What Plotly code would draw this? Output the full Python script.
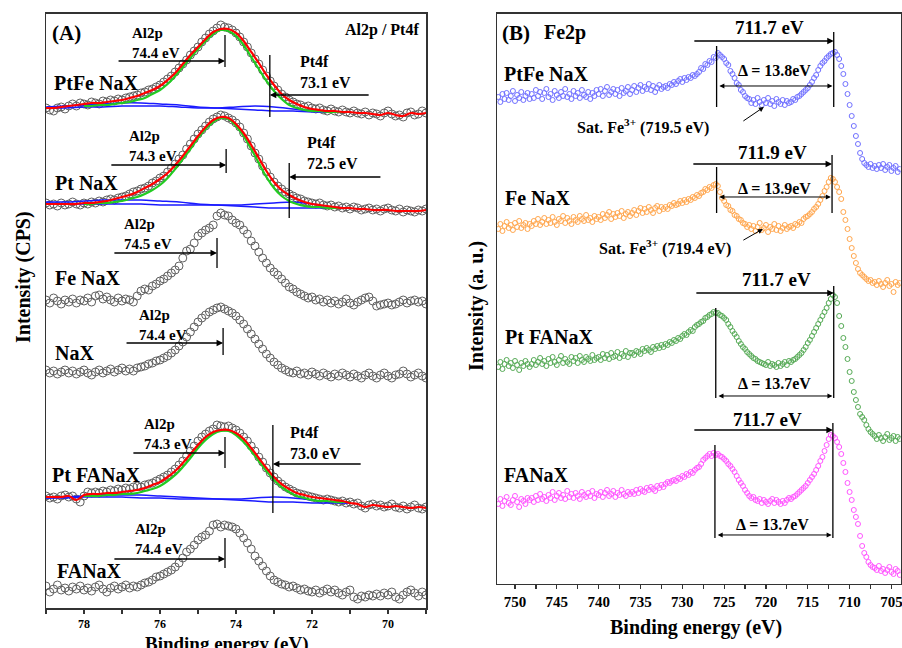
import numpy as np
import plotly.graph_objects as go

FONT = "Liberation Serif"

# ======================= Panel (A): Al2p / Pt4f ==========================
# measured intensities (a.u.), binding energy 79.0 -> 69.0 eV, 0.1 eV steps
a_names = ["PtFe NaX", "Pt NaX", "Fe NaX", "NaX", "Pt FANaX", "FANaX"]

a_ptfe_nax = [500, 498, 497, 500, 501, 499, 502, 504, 502, 505, 504,
              503, 506, 505, 504, 507, 506, 508, 507, 509, 508,
              510, 511, 512, 513, 515, 516, 518, 519, 521, 523,
              526, 529, 532, 536, 540, 544, 548, 553, 557, 561,
              566, 570, 574, 577, 580, 583, 581, 580, 578, 575,
              571, 566, 561, 555, 549, 544, 538, 532, 527, 522,
              518, 514, 511, 508, 506, 504, 503, 501, 502, 500,
              499, 500, 498, 497, 499, 497, 496, 498, 496, 495,
              497, 495, 494, 496, 493, 495, 494, 492, 495, 497,
              494, 492, 493, 491, 495, 496, 493, 494, 497, 495]
a_pt_nax = [405, 403, 404, 402, 405, 403, 404, 406, 404, 403, 405,
            404, 406, 405, 407, 406, 408, 409, 408, 410, 411,
            412, 414, 416, 417, 419, 420, 422, 425, 427, 430,
            432, 436, 440, 444, 449, 453, 459, 464, 469, 474,
            478, 482, 486, 489, 491, 493, 492, 490, 488, 485,
            481, 475, 469, 462, 455, 449, 442, 436, 431, 426,
            422, 419, 416, 414, 412, 410, 409, 407, 406, 405,
            404, 405, 403, 402, 403, 401, 402, 400, 401, 399,
            401, 400, 398, 399, 400, 398, 399, 397, 399, 400,
            398, 397, 399, 396, 398, 397, 396, 398, 397, 399]
a_fe_nax = [308, 305, 310, 307, 304, 308, 306, 309, 305, 308, 307,
            310, 306, 312, 313, 309, 311, 308, 306, 310, 307,
            309, 308, 306, 312, 317, 319, 318, 322, 324, 327,
            329, 332, 335, 338, 342, 350, 357, 359, 365, 372,
            375, 378, 380, 383, 392, 395, 393, 392, 388, 385,
            383, 378, 374, 367, 362, 356, 350, 345, 340, 336,
            333, 329, 325, 321, 319, 316, 314, 312, 310, 311,
            308, 309, 306, 308, 305, 307, 304, 306, 309, 305,
            303, 306, 308, 310, 311, 307, 302, 303, 304, 305,
            303, 304, 306, 308, 305, 307, 308, 306, 307, 304]
a_nax = [238, 235, 237, 234, 236, 238, 235, 237, 234, 236, 238,
         235, 233, 236, 238, 235, 237, 239, 236, 238, 240,
         237, 239, 237, 240, 241, 242, 244, 245, 247, 248,
         250, 252, 255, 258, 262, 266, 271, 276, 281, 286,
         290, 293, 296, 298, 300, 301, 299, 297, 295, 292,
         288, 284, 279, 274, 269, 264, 259, 254, 250, 246,
         243, 240, 238, 236, 235, 237, 234, 235, 233, 236,
         234, 232, 235, 233, 231, 234, 232, 235, 233, 231,
         234, 232, 230, 233, 235, 232, 230, 233, 235, 232,
         230, 233, 234, 237, 234, 231, 233, 235, 232, 230]
a_pt_fanax = [112, 110, 111, 109, 112, 113, 111, 112, 109, 106, 112,
              116, 115, 116, 115, 117, 116, 118, 117, 119, 118,
              120, 119, 121, 122, 121, 123, 124, 125, 127, 129,
              131, 133, 136, 139, 143, 147, 152, 157, 162, 167,
              171, 174, 177, 179, 183, 182, 181, 182, 180, 178,
              175, 171, 167, 162, 157, 151, 146, 140, 135, 131,
              127, 124, 121, 119, 117, 115, 114, 113, 112, 111,
              110, 109, 108, 109, 108, 107, 106, 107, 105, 106,
              104, 105, 102, 100, 103, 104, 102, 103, 101, 102,
              104, 101, 100, 102, 99, 101, 103, 100, 99, 101]
a_fanax = [22, 16, 19, 23, 18, 20, 17, 21, 19, 22, 18,
           20, 17, 21, 23, 19, 16, 20, 22, 19, 21,
           23, 20, 22, 21, 23, 25, 26, 28, 31, 32,
           34, 36, 38, 41, 45, 50, 56, 59, 63, 68,
           71, 73, 77, 83, 84, 81, 83, 82, 81, 79,
           75, 70, 65, 59, 52, 47, 42, 37, 32, 28,
           26, 24, 23, 21, 22, 20, 18, 19, 17, 16,
           18, 15, 17, 19, 16, 18, 15, 13, 16, 18,
           11, 9, 12, 11, 13, 12, 14, 12, 15, 13,
           16, 11, 9, 13, 16, 18, 15, 12, 16, 13]

# fitted envelopes (red), 79 -> 69 eV, 0.2 eV steps
env_ptfe = [500, 500, 501, 502, 503, 504, 505, 505, 506, 507,
            508, 510, 512, 515, 518, 522, 528, 535, 544, 553,
            561, 569, 576, 579, 579, 575, 567, 556, 545, 533,
            523, 514, 508, 504, 501, 499, 498, 497, 497, 496,
            496, 495, 495, 494, 493, 495, 493, 492, 495, 494, 495]
env_pt = [404, 404, 404, 404, 404, 405, 405, 406, 407, 409,
          411, 413, 416, 420, 424, 429, 435, 443, 452, 462,
          472, 481, 488, 491, 490, 484, 475, 463, 450, 437,
          426, 418, 413, 409, 406, 404, 403, 402, 401, 400,
          400, 399, 399, 398, 398, 398, 397, 397, 397, 397, 398]
env_ptfa = [111, 111, 111, 112, 108, 113, 114, 114, 115, 115,
            116, 117, 118, 120, 123, 126, 131, 137, 145, 154,
            163, 171, 176, 178, 178, 175, 169, 160, 150, 140,
            131, 124, 119, 115, 113, 111, 110, 109, 108, 107,
            105, 104, 101, 103, 102, 101, 102, 101, 100, 101, 100]
# Al2p components (green), 78 -> 71 eV, 0.2 eV steps
al_ptfe = [502, 502, 503, 503, 504, 505, 506, 508, 510, 514,
           518, 524, 532, 541, 550, 559, 567, 574, 578, 577,
           572, 563, 551, 539, 527, 517, 509, 503, 500, 498,
           497, 497, 496, 496, 496, 496]
al_pt = [404, 404, 405, 405, 406, 407, 409, 411, 414, 418,
         423, 430, 439, 449, 459, 470, 479, 486, 490, 489,
         482, 472, 459, 445, 431, 420, 412, 407, 404, 402,
         401, 401, 400, 400, 400, 400]
al_ptfa = [112, 112, 112, 113, 113, 114, 114, 115, 117, 119,
           122, 127, 133, 141, 150, 160, 168, 174, 177, 177,
           173, 166, 157, 147, 137, 128, 121, 116, 112, 110,
           108, 107, 107, 106, 106, 106]
# Pt4f components (blue), 79 -> 71 eV, 0.5 eV steps
pt1_ptfe = [501, 502, 503, 504, 505, 505, 504, 503, 501, 500, 499, 498, 497, 497, 496, 496, 496]
pt2_ptfe = [500, 500, 501, 501, 502, 502, 502, 501, 500, 500, 501, 502, 501, 499, 497, 496, 496]
pt1_pt = [406, 406, 407, 408, 408, 408, 407, 406, 404, 403, 402, 401, 400, 400, 400, 400, 400]
pt2_pt = [405, 404, 404, 404, 404, 404, 403, 403, 403, 403, 403, 404, 405, 406, 404, 401, 400]
pt1_ptfa = [110, 111, 112, 113, 113, 113, 112, 111, 110, 109, 108, 107, 106, 106, 105, 105, 105]
pt2_ptfa = [110, 110, 111, 111, 111, 110, 110, 109, 109, 109, 109, 110, 111, 110, 108, 106, 105]

a_al2p_labels = ["74.4 eV", "74.3 eV", "74.5 eV", "74.4 eV", "74.3 eV", "74.4 eV"]
a_al2p_pos = [74.29, 74.26, 74.5, 74.34, 74.29, 74.29]
a_pt4f_labels = ["73.1 eV", "72.5 eV", "73.0 eV"]
a_pt4f_pos = [73.11, 72.6, 73.03]

# ======================= Panel (B): Fe2p ==========================
# 752 -> 704 eV, 0.25 eV steps
b_names = ["PtFe NaX", "Fe NaX", "Pt FANaX", "FANaX"]
b_ptfe_nax = [487, 482, 490, 485, 491, 484, 488, 493, 483, 489, 486, 492, 484, 488, 491, 485,
              490, 486, 494, 488, 492, 485, 491, 495, 487, 490, 484, 493, 489, 486, 492, 488,
              495, 487, 490, 485, 493, 488, 491, 486, 494, 489, 487, 492, 485, 491, 488, 494,
              490, 495, 488, 493, 497, 489, 492, 495, 490, 494, 488, 496, 491, 493, 497, 490,
              494, 498, 492, 496, 499, 493, 497, 495, 500, 494, 498, 492, 496, 499, 495, 497,
              498, 496, 500, 499, 502, 500, 503, 505, 502, 506, 504, 507, 506, 509, 508, 510,
              512, 516, 515, 520, 519, 523, 522, 527, 526, 531, 529, 527,
              525, 521, 519, 513, 510, 506, 501, 499, 494, 492, 488, 486,
              485, 481, 484, 480, 486, 482, 479, 484, 481, 486, 480, 483, 478, 485, 482, 480, 484, 479, 483, 481,
              482, 485, 484, 487, 488, 490, 492, 494,
              496, 499, 502, 506, 509, 514, 518, 521,
              523, 526, 528, 530, 531, 532, 529, 525,
              518, 510, 500, 490, 479, 468, 458, 448, 440, 431, 425, 421, 419, 417, 420, 416,
              418, 415, 419, 416, 420, 414, 417, 419, 413, 416, 418, 412, 415]
b_fe_nax = [355, 360, 353, 358, 362, 356, 359, 354, 361, 357, 363, 356, 359, 361, 355, 360,
            358, 363, 360, 365, 359, 362, 366, 360, 364, 361, 367, 362, 359, 365, 363, 368,
            361, 366, 363, 360, 367, 364, 362, 368, 365, 363, 369, 364, 366, 362, 368, 365,
            367, 364, 370, 366, 369, 372, 365, 370, 367, 371, 368, 373, 366, 370, 372, 368,
            371, 374, 369, 373, 376, 371, 375, 372, 377, 374, 371, 376, 378, 373, 377, 375,
            377, 375, 379, 378, 381, 379, 380, 383, 381, 384, 382, 385, 384, 387, 386, 389,
            388, 391, 392, 395, 394, 397, 396, 399, 400, 398, 392, 386,
            383, 379, 378, 374, 373, 369, 368, 365, 364, 361, 360, 357,
            359, 355, 358, 353, 357, 361, 354, 356, 359, 352, 357, 355, 360, 354, 358, 353, 356, 359, 355, 357,
            358, 356, 360, 359, 362, 361, 365, 367,
            368, 370, 372, 375, 377, 380, 384, 388,
            393, 397, 402, 406, 405, 402, 397, 392,
            385, 372, 364, 355, 345, 336, 328, 321, 315, 311, 309, 307, 305, 303, 304, 301,
            302, 299, 303, 300, 297, 301, 304, 298, 300, 292, 302, 299, 301]
b_pt_fanax = [217, 222, 215, 220, 224, 218, 221, 216, 223, 219, 214, 221, 218, 223, 220, 217,
              220, 224, 219, 222, 226, 220, 223, 218, 225, 221, 227, 222, 219, 224, 228, 221,
              225, 222, 220, 227, 223, 226, 221, 228, 224, 222, 227, 225, 223, 229, 224, 226,
              227, 224, 230, 226, 229, 225, 231, 227, 228, 232, 226, 230, 228, 233, 227, 231,
              231, 229, 233, 232, 230, 235, 233, 236, 234, 232, 237, 235, 238, 236, 239, 237,
              240, 239, 242, 241, 244, 243, 246, 245, 248, 250, 249, 252, 254, 253, 257, 259,
              260, 262, 263, 266, 267, 269, 270, 272, 271, 271, 269, 268,
              266, 264, 260, 257, 253, 250, 247, 243, 240, 237, 235, 232,
              230, 228, 226, 225, 223, 222, 221, 220, 219, 222, 218, 220, 219, 217, 221, 218, 220, 222, 219, 223,
              222, 224, 225, 227, 229, 231, 234, 237,
              241, 244, 248, 252, 256, 260, 264, 268,
              272, 276, 281, 285, 289, 287, 281, 268,
              258, 246, 237, 225, 212, 203, 192, 184, 177, 170, 167, 164, 159, 155, 152, 150,
              148, 145, 149, 146, 143, 147, 150, 144, 146, 148, 143, 147, 145]
b_fanax = [80, 85, 78, 83, 87, 81, 79, 84, 88, 82, 77, 85, 83, 80, 86, 84,
           86, 82, 88, 84, 90, 85, 87, 83, 89, 86, 92, 84, 88, 91, 86, 89,
           85, 93, 87, 90, 86, 91, 88, 85, 92, 89, 87, 91, 88, 93, 86, 90,
           89, 92, 87, 91, 94, 88, 90, 93, 87, 91, 89, 94, 90, 88, 92, 90,
           92, 90, 94, 91, 95, 93, 92, 96, 94, 97, 95, 93, 98, 96, 99, 97,
           100, 102, 101, 103, 104, 103, 106, 105, 108, 107, 110, 109, 112, 111, 114, 116,
           117, 120, 124, 126, 128, 130, 128, 131, 129, 130, 128, 127,
           125, 123, 120, 118, 115, 112, 108, 104, 101, 98, 94, 91,
           88, 86, 87, 84, 83, 85, 81, 84, 82, 80, 83, 85, 81, 84, 82, 80, 83, 81, 84, 86,
           85, 87, 88, 90, 92, 94, 96, 98,
           101, 104, 107, 110, 114, 118, 123, 127,
           133, 139, 145, 149, 148, 146, 142, 137,
           130, 121, 112, 101, 92, 84, 74, 67, 60, 48, 38, 31, 27, 22, 19, 17,
           16, 14, 18, 13, 15, 11, 14, 17, 12, 10, 15, 13, 9]
b_colors = ["#7070ff", "#ffa64d", "#55aa55", "#ff55ff"]
b_main_labels = ["711.7 eV", "711.9 eV", "711.7 eV", "711.7 eV"]
b_main_pos = [711.9, 712.1, 711.9, 712.0]
b_sat_pos = [725.9, 725.9, 726.0, 726.1]
b_delta_labels = ["Δ = 13.8eV", "Δ = 13.9eV", "Δ = 13.7eV", "Δ = 13.7eV"]
b_sat_labels = ["Sat. Fe<sup>3+</sup> (719.5 eV)", "Sat. Fe<sup>3+</sup> (719.4 eV)"]

fig = go.Figure()

# ---- panel A traces
a_series = [a_ptfe_nax, a_pt_nax, a_fe_nax, a_nax, a_pt_fanax, a_fanax]
for vals in a_series:
    fig.add_trace(go.Scatter(x=np.linspace(79.0, 69.0, len(vals)), y=vals, mode="markers",
                             marker=dict(symbol="circle-open", size=8, color="#606060",
                                         line=dict(width=1)),
                             xaxis="x", yaxis="y", hoverinfo="skip"))

for p1, p2, al, env in [(pt1_ptfe, pt2_ptfe, al_ptfe, env_ptfe),
                        (pt1_pt, pt2_pt, al_pt, env_pt),
                        (pt1_ptfa, pt2_ptfa, al_ptfa, env_ptfa)]:
    for p in (p1, p2):
        fig.add_trace(go.Scatter(x=np.linspace(79.0, 71.0, len(p)), y=p, mode="lines",
                                 line=dict(color="#1a1aff", width=1.5, shape="spline"),
                                 xaxis="x", yaxis="y", hoverinfo="skip"))
    fig.add_trace(go.Scatter(x=np.linspace(78.0, 71.0, len(al)), y=al, mode="lines",
                             line=dict(color="#22cc22", width=2.2, shape="spline"),
                             xaxis="x", yaxis="y", hoverinfo="skip"))
    fig.add_trace(go.Scatter(x=np.linspace(79.0, 69.0, len(env)), y=env, mode="lines",
                             line=dict(color="#ff0000", width=2.2, shape="spline"),
                             xaxis="x", yaxis="y", hoverinfo="skip"))

# ---- panel B traces
for vals, col in zip([b_ptfe_nax, b_fe_nax, b_pt_fanax, b_fanax], b_colors):
    fig.add_trace(go.Scatter(x=np.linspace(752.0, 704.0, len(vals)), y=vals, mode="markers",
                             marker=dict(symbol="circle-open", size=5, color=col,
                                         line=dict(width=1)),
                             xaxis="x2", yaxis="y2", hoverinfo="skip"))

ann = []
shapes = []


def text(x, y, s, size, xref, yref, xanchor="center", align="center"):
    ann.append(dict(x=x, y=y, xref=xref, yref=yref, text="<b>" + s + "</b>", showarrow=False,
                    xanchor=xanchor, yanchor="middle", align=align,
                    font=dict(family=FONT, size=size, color="black")))


def arrow(x0, y0, x1, y1, xref, yref, both=False, width=1.3):
    ann.append(dict(x=x1, y=y1, ax=x0, ay=y0, xref=xref, yref=yref, axref=xref, ayref=yref,
                    text="", showarrow=True, arrowhead=2, startarrowhead=2, arrowsize=1,
                    startarrowsize=1, arrowwidth=width, arrowcolor="black",
                    arrowside="end+start" if both else "end", standoff=0, startstandoff=0))


def vline(x, y0, y1, xref, yref):
    shapes.append(dict(type="line", x0=x, x1=x, y0=y0, y1=y1, xref=xref, yref=yref,
                       line=dict(color="black", width=1.3)))


# ---- panel A annotations
text(78.45, 575, "(A)", 21, "x", "y")
text(69.13, 578, "Al2p / Pt4f", 16, "x", "y", xanchor="right")
name_x = [78.84, 78.82, 78.82, 78.82, 78.9, 78.76]
name_y = [525, 425, 330, 255, 133, 37]
for n, nx, ny in zip(a_names, name_x, name_y):
    text(nx, ny, n, 20, "x", "y", xanchor="left")

al_txt = [(76.79, 565), (76.87, 462), (77.0, 374), (76.61, 283), (76.47, 174), (76.71, 69)]
al_tail = [(77.13, 547), (77.32, 443), (77.24, 355), (76.92, 265), (76.74, 155), (77.24, 49)]
al_line = [(541, 573), (435, 459), (340, 370), (253, 280), (140, 171), (40, 70)]
for lab, pos, (tx, ty), (ax_, ay_), (l0, l1) in zip(a_al2p_labels, a_al2p_pos, al_txt, al_tail, al_line):
    text(tx, ty, "Al2p<br>" + lab, 15, "x", "y", xanchor="left", align="left")
    arrow(ax_, ay_, pos, ay_, "x", "y")
    vline(pos, l0, l1, "x", "y")

pt_txt = [(72.37, 536), (72.18, 455), (72.63, 165)]
pt_tail = [(70.47, 513), (70.16, 431), (70.68, 144)]
pt_line = [(491, 553), (390, 445), (95, 183)]
for lab, pos, (tx, ty), (ax_, ay_), (l0, l1) in zip(a_pt4f_labels, a_pt4f_pos, pt_txt, pt_tail, pt_line):
    text(tx, ty, "Pt4f<br>" + lab, 16, "x", "y", xanchor="left", align="left")
    arrow(ax_, ay_, pos, ay_, "x", "y")
    vline(pos, l0, l1, "x", "y")

# ---- panel B annotations
text(751.8, 551, "(B)", 21, "x2", "y2", xanchor="left")
text(746.78, 551, "Fe2p", 20, "x2", "y2", xanchor="left")
bn_x = [751.55, 751.43, 751.43, 751.55]
bn_y = [510, 386, 247, 109]
for n, nx, ny in zip(b_names, bn_x, bn_y):
    text(nx, ny, n, 20, "x2", "y2", xanchor="left")

main_txt = [(719.54, 556), (719.18, 431), (718.7, 304), (719.78, 164)]
main_tail = [(728.74, 543), (728.86, 420), (728.5, 291), (728.74, 154)]
main_line = [(477, 552), (371, 429), (186, 298), (46, 161)]
sat_line = [(477, 538), (371, 417), (186, 276), (46, 139)]
dbl_y = [498, 387, 188, 49]
delta_txt = [(718.94, 513), (718.94, 395), (718.94, 200), (719.18, 59)]
for i in range(4):
    text(main_txt[i][0], main_txt[i][1], b_main_labels[i], 19, "x2", "y2")
    arrow(main_tail[i][0], main_tail[i][1], b_main_pos[i], main_tail[i][1], "x2", "y2")
    vline(b_main_pos[i], main_line[i][0], main_line[i][1], "x2", "y2")
    vline(b_sat_pos[i], sat_line[i][0], sat_line[i][1], "x2", "y2")
    arrow(b_sat_pos[i] - 0.15, dbl_y[i], b_main_pos[i] + 0.15, dbl_y[i], "x2", "y2",
          both=True, width=1.0)
    text(delta_txt[i][0], delta_txt[i][1], b_delta_labels[i], 16, "x2", "y2")

sat_txt = [(734.71, 457), (732.08, 336)]
sat_arr = [((722.88, 462), (720.25, 477)), ((722.88, 343), (720.37, 355))]
for lab, (tx, ty), ((x0, y0), (x1, y1)) in zip(b_sat_labels, sat_txt, sat_arr):
    text(tx, ty, lab, 16, "x2", "y2")
    arrow(x0, y0, x1, y1, "x2", "y2", width=1.0)

# axis titles
text(0.2517, 0.0062, "Binding energy (eV)", 19, "paper", "paper")
text(0.7716, 0.031, "Binding energy (eV)", 20, "paper", "paper")
for x, y, s in [(0.0255, 0.5725, "Intensity (CPS)"), (0.5288, 0.5278, "Intensity (a. u.)")]:
    ann.append(dict(x=x, y=y, xref="paper", yref="paper", text="<b>" + s + "</b>",
                    showarrow=False, textangle=-90, xanchor="center", yanchor="middle",
                    font=dict(family=FONT, size=20, color="black")))

axline = dict(showline=True, mirror=True, linecolor="#333333", linewidth=1.5,
              showgrid=False, zeroline=False, automargin=False)
fig.update_layout(
    template="none",
    width=902, height=648, margin=dict(l=0, r=0, t=0, b=0, pad=0), autosize=False,
    paper_bgcolor="white", plot_bgcolor="white", showlegend=False,
    xaxis=dict(domain=[0.051, 0.4723], range=[79, 69], anchor="y", dtick=2, tick0=0,
               ticks="outside", ticklen=4, tickwidth=1.2, tickcolor="#333333",
               ticklabeloverflow="allow",
               tickfont=dict(family=FONT, size=12, color="black", weight="bold"),
               minor=dict(dtick=1, ticks="outside", ticklen=4, tickwidth=1.2,
                          tickcolor="#333333", showgrid=False), **axline),
    yaxis=dict(domain=[0.0617, 0.9784], range=[0, 594], anchor="x",
               showticklabels=False, ticks="", **axline),
    xaxis2=dict(domain=[0.551, 0.9985], range=[752.15, 703.9], anchor="y2", dtick=5, tick0=0,
                ticks="outside", ticklen=4, tickwidth=1.2, tickcolor="#333333",
                ticklabeloverflow="allow",
                tickfont=dict(family=FONT, size=15, color="black", weight="bold"),
                minor=dict(dtick=2.5, ticks="outside", ticklen=4, tickwidth=1.2,
                           tickcolor="#333333", showgrid=False), **axline),
    yaxis2=dict(domain=[0.0988, 0.9784], range=[0, 570], anchor="x2",
                showticklabels=False, ticks="", **axline),
    annotations=ann, shapes=shapes,
)

fig.write_html("out.html", config={"displayModeBar": False, "staticPlot": True},
               post_script="document.body.style.margin='0px';"
                           "document.body.style.padding='0px';"
                           "document.documentElement.style.overflow='hidden';")
